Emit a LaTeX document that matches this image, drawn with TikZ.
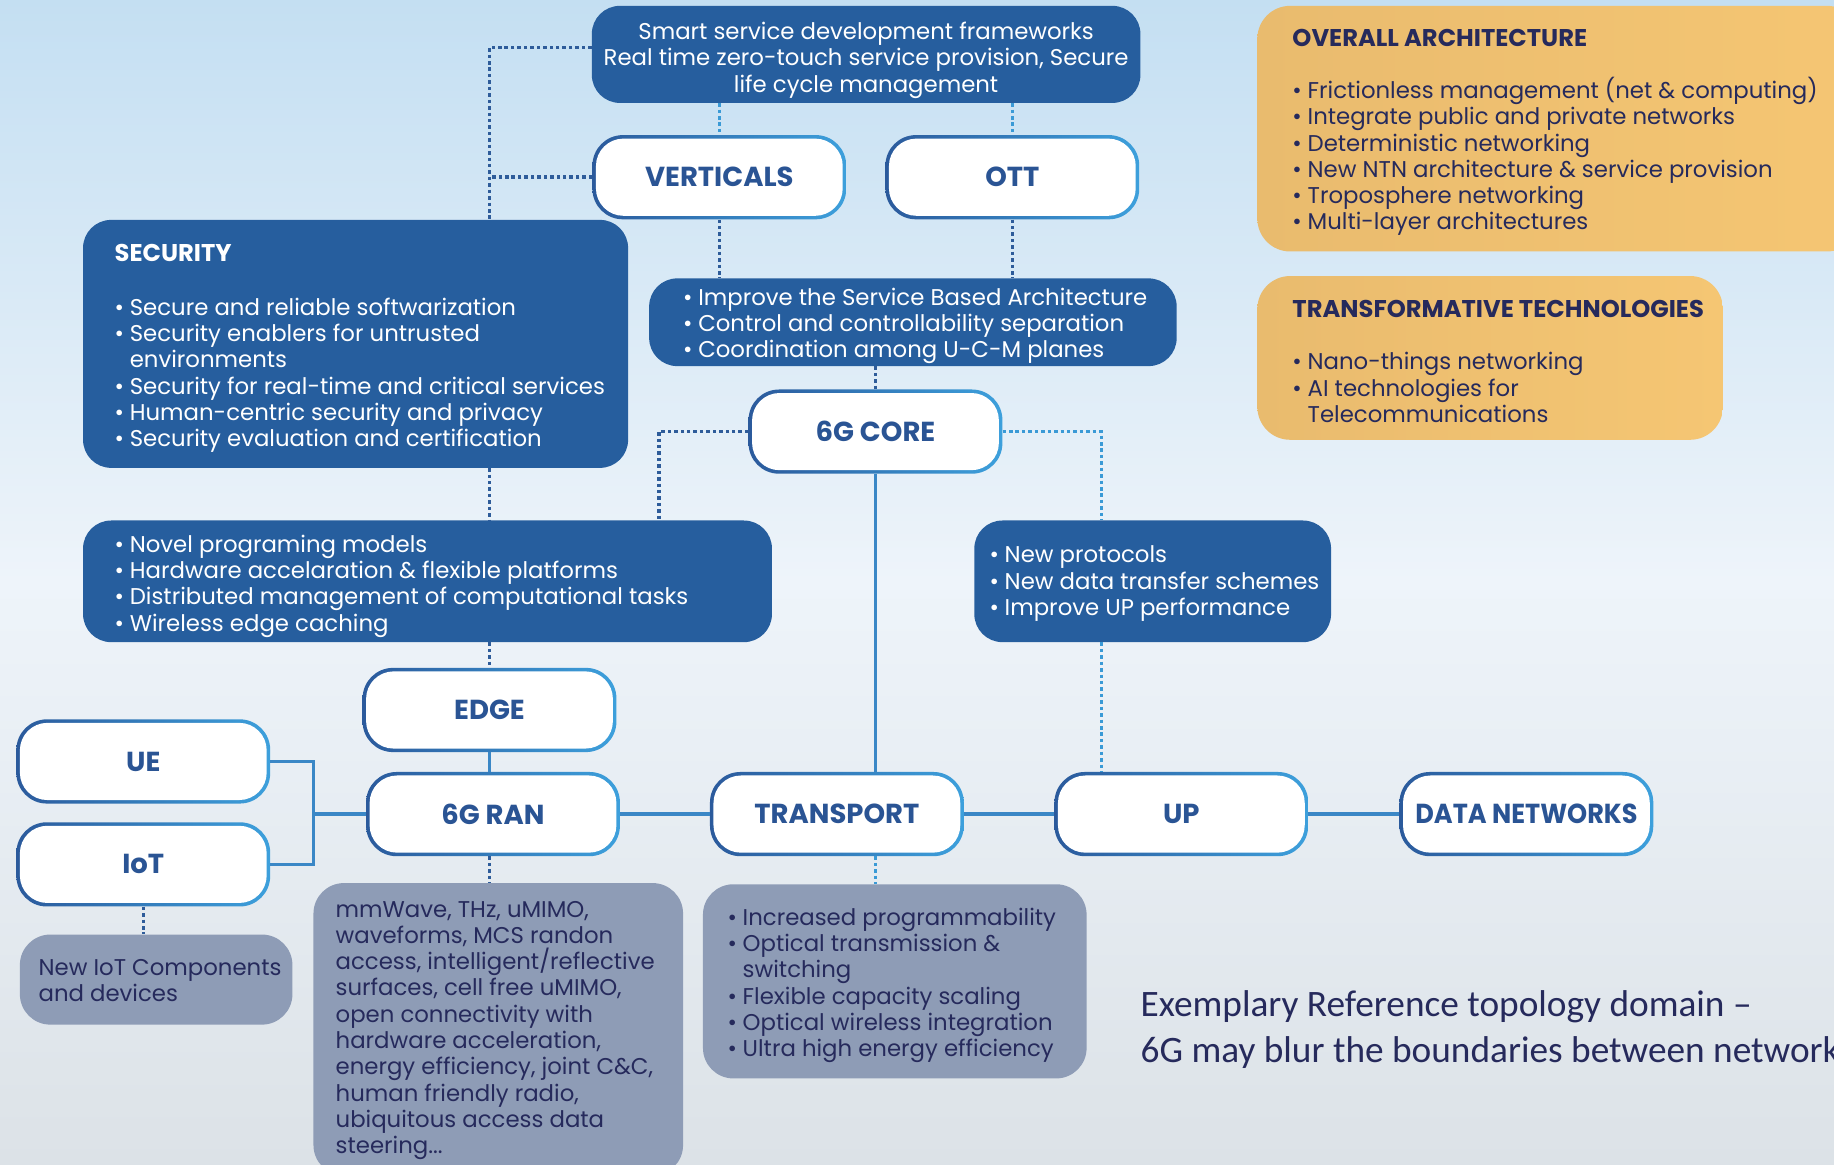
\documentclass[tikz,border=0pt]{standalone}
\usepackage{fontspec}
\usepackage{graphicx}
\setmainfont{Poppins}
\newfontfamily\capfont{Carlito}
\usetikzlibrary{calc}
\definecolor{bgtop}{HTML}{C4DFF2}
\definecolor{bgmid}{HTML}{EEF4FA}
\definecolor{bgbot}{HTML}{DCE2E7}
\definecolor{dkblue}{HTML}{265E9E}
\definecolor{pillL}{HTML}{2B5A9C}
\definecolor{pillR}{HTML}{3DA0DC}
\definecolor{lbl}{HTML}{2A5494}
\definecolor{greybox}{HTML}{8E9CB6}
\definecolor{navy}{HTML}{262A5C}
\definecolor{orL}{HTML}{E9BB6E}
\definecolor{orR}{HTML}{F5C673}
\definecolor{lnblue}{HTML}{3A87C6}
\definecolor{dotdk}{HTML}{2E5C9A}
\definecolor{dotlt}{HTML}{3A9AD6}
\newcommand\bitem{\makebox[13pt][l]{\textbullet}}
\newcommand\bcont{\hspace*{13pt}}
\newcommand\hdrfont{\bfseries\fontsize{20.7pt}{22.5pt}\selectfont}
\tikzset{
  pill/.style={shape=rectangle, rounded corners=26pt, left color=pillL, right color=pillR,
    minimum width=217pt, minimum height=72pt, inner sep=0pt, text=lbl,
    font={\bfseries\fontsize{23.5pt}{26pt}\selectfont},
    path picture={\fill[white, rounded corners=23.5pt]
      ($(path picture bounding box.south west)+(3pt,3pt)$) rectangle
      ($(path picture bounding box.north east)+(-3pt,-3pt)$);}},
  darkbox/.style={shape=rectangle, fill=dkblue, rounded corners=24pt, inner sep=0pt},
  greyb/.style={shape=rectangle, fill=greybox, rounded corners=26pt, inner sep=0pt},
  orbox/.style={shape=rectangle, left color=orL, right color=orR, rounded corners=28pt, inner sep=0pt},
  wtext/.style={text=white, align=left, inner sep=0pt, font={\fontsize{19.5pt}{22.5pt}\selectfont}},
  ntext/.style={text=navy, align=left, inner sep=0pt, font={\fontsize{19.5pt}{22.5pt}\selectfont}},
  conn/.style={draw=lnblue, line width=3pt},
  dotd/.style={draw=dotdk, line width=3pt, dash pattern=on 3pt off 2.5pt},
  dotl/.style={draw=dotlt, line width=3pt, dash pattern=on 3pt off 2.5pt}
}
\begin{document}
\begin{tikzpicture}[x=1pt,y=-1pt]
\useasboundingbox (0,0) rectangle (1568,996);
\clip (0,0) rectangle (1568,996);
\shade[top color=bgtop, bottom color=bgbot, middle color=bgmid] (0,0) rectangle (1568,996);

% top box
\node[darkbox, minimum width=469pt, minimum height=83pt] (top) at (740.5,46.5) {};
\node[wtext, align=center] (toptxt) at ($(top.center)+(0,5)$)
  {Smart service development frameworks\\Real time zero-touch service provision, Secure\\life cycle management};

% pills
\node[pill] (verticals) at (615,151.5) {VERTICALS};
\node[pill] (ott) at (865.5,151.5) {OTT};
\node[pill] (core) at (748.5,369) {6G CORE};
\node[pill] (edge) at (418.5,607) {EDGE};
\node[pill] (ue) at (122.5,651) {UE};
\node[pill] (iot) at (122.5,739) {IoT};
\node[pill] (ran) at (421.5,696) {6G RAN};
\node[pill] (transport) at (715.5,696) {TRANSPORT};
\node[pill] (up) at (1010,696) {UP};
\node[pill] (dn) at (1305,696) {\scalebox{0.93}[1]{DATA NETWORKS}};

% security
\node[darkbox, minimum width=466pt, minimum height=212pt] (secur) at (304,294) {};
\node[wtext, anchor=west] (securtxt) at ($(secur.west)+(27,4)$)
  {{\hdrfont SECURITY}\\[23.5pt]
   \bitem Secure and reliable softwarization\\
   \bitem Security enablers for untrusted\\
   \bcont environments\\
   \bitem Security for real-time and critical services\\
   \bitem Human-centric security and privacy\\
   \bitem Security evaluation and certification};

% SBA box
\node[darkbox, minimum width=451pt, minimum height=75pt] (sba) at (780.5,275.5) {};
\node[wtext, anchor=west] (sbatxt) at ($(sba.west)+(29,3)$)
  {\bitem Improve the Service Based Architecture\\
   \bitem Control and controllability separation\\
   \bitem Coordination among U-C-M planes};

% edge bullets
\node[darkbox, minimum width=589pt, minimum height=104pt] (edgebox) at (365.5,497) {};
\node[wtext, anchor=west] (edgetxt) at ($(edgebox.west)+(27,4)$)
  {\bitem Novel programing models\\
   \bitem Hardware accelaration \& flexible platforms\\
   \bitem Distributed management of computational tasks\\
   \bitem Wireless edge caching};

% UP bullets
\node[darkbox, minimum width=305pt, minimum height=104pt] (upbox) at (985.5,497) {};
\node[wtext, anchor=west] (uptxt) at ($(upbox.west)+(13,2)$)
  {\bitem New protocols\\
   \bitem New data transfer schemes\\
   \bitem Improve UP performance};

% grey boxes
\node[greyb, minimum width=233pt, minimum height=77pt] (newiot) at (133.5,837.5) {};
\node[ntext, anchor=west] (newiottxt) at ($(newiot.west)+(16,1)$)
  {New IoT Components\\and devices};

\node[greyb, minimum width=316pt, minimum height=250pt] (rangrey) at (426,880) {};
\node[ntext, anchor=west] (rantxt) at ($(rangrey.west)+(19,1)$)
  {mmWave, THz, uMIMO,\\
   waveforms, MCS randon\\
   access, intelligent/reflective\\
   surfaces, cell free uMIMO,\\
   open connectivity with\\
   hardware acceleration,\\
   energy efficiency, joint C\&C,\\
   human friendly radio,\\
   ubiquitous access data\\
   steering...};

\node[greyb, minimum width=328pt, minimum height=166pt] (trgrey) at (765,839) {};
\node[ntext, anchor=west] (trtxt) at ($(trgrey.west)+(21,3.5)$)
  {\bitem Increased programmability\\
   \bitem Optical transmission \&\\
   \bcont switching\\
   \bitem Flexible capacity scaling\\
   \bitem Optical wireless integration\\
   \bitem Ultra high energy efficiency};

% orange boxes
\node[orbox, minimum width=515pt, minimum height=210pt] (overall) at (1332.5,110) {};
\node[ntext, anchor=west] (overalltxt) at ($(overall.west)+(30,3.5)$)
  {{\hdrfont OVERALL ARCHITECTURE}\\[21.5pt]
   \bitem Frictionless management (net \& computing)\\
   \bitem Integrate public and private networks\\
   \bitem Deterministic networking\\
   \bitem New NTN architecture \& service provision\\
   \bitem Troposphere networking\\
   \bitem Multi-layer architectures};

\node[orbox, minimum width=398pt, minimum height=140pt] (transf) at (1274,306) {};
\node[ntext, anchor=west] (transftxt) at ($(transf.west)+(30,3)$)
  {{\hdrfont TRANSFORMATIVE TECHNOLOGIES}\\[22.5pt]
   \bitem Nano-things networking\\
   \bitem AI technologies for\\
   \bcont Telecommunications};

% caption
\node[anchor=west, inner sep=0pt, align=left, text=navy,
  font={\capfont\fontsize{31.9pt}{39pt}\selectfont}] (cap) at (975,880)
  {Exemplary Reference topology domain –\\6G may blur the boundaries between networks};

% connectors
\coordinate (tw) at ($(top.west)+(0,-6)$);
\draw[dotd] (tw) -| (secur.north -| edge.north);
\draw[dotd] (verticals.west) -- (verticals.west -| edge.north);
\draw[dotl] (top.south -| verticals.north) -- (verticals.north);
\draw[dotl] (top.south -| ott.north) -- (ott.north);
\draw[dotd] (verticals.south) -- (verticals.south |- sba.north);
\draw[dotd] (ott.south) -- (ott.south |- sba.north);
\draw[dotd] (sba.south -| core.north) -- (core.north);
\coordinate (cl) at ($(edgebox.north east)+(-97,0)$);
\coordinate (cr) at ($(upbox.north west)+(109,0)$);
\draw[dotd] (core.west) -| (cl);
\draw[dotl] (core.east) -| (cr);
\draw[conn] (core.south) -- (core.south |- transport.north);
\draw[dotd] (secur.south -| edge.north) -- (edgebox.north -| edge.north);
\draw[dotd] (edgebox.south -| edge.north) -- (edge.north);
\draw[conn] (edge.south) -- (edge.south |- ran.north);
\draw[conn] (ran.east) -- (transport.west);
\draw[conn] (transport.east) -- (up.west);
\draw[conn] (up.east) -- (dn.west);
\coordinate (br) at ($(ue.east)+(37,0)$);
\draw[conn] (ue.east) -- (br) -- (br |- iot.east) -- (iot.east);
\draw[conn] (ran.west) -- (ran.west -| br);
\draw[dotl] (upbox.south -| cr) -- (up.north -| cr);
\draw[dotd] (ran.south -| edge.north) -- (rangrey.north -| edge.north);
\draw[dotl] (transport.south -| core.south) -- (trgrey.north -| core.south);
\draw[dotd] (iot.south) -- (iot.south |- newiot.north);
\end{tikzpicture}
\end{document}
